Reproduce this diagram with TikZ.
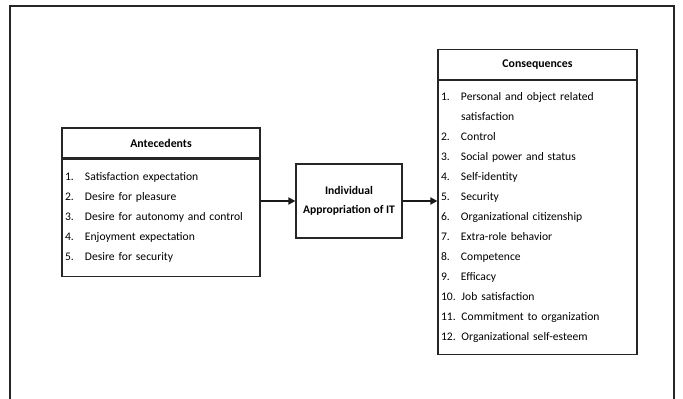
\documentclass[tikz,border=0pt]{standalone}
\usepackage{fontspec}
\setmainfont{Carlito}
\usetikzlibrary{arrows.meta}
\usetikzlibrary{positioning}

\newcommand{\itm}[2]{\makebox[20pt][l]{#1}#2}

\begin{document}
\begin{tikzpicture}[x=1pt, y=1pt,
    box/.style={draw=black!85, line width=1.2pt, inner xsep=3pt},
    head/.style={box, font=\bfseries\fontsize{11.8}{13}\selectfont, minimum height=30pt},
    list/.style={box, align=left, inner ysep=11.5pt, font=\fontsize{11.6}{20}\selectfont},
    flow/.style={line width=2pt, black!90, -{Triangle[length=7pt,width=7pt]}}]
    \useasboundingbox (0,0) rectangle (683,399);
    % outer frame, open at the bottom
    \draw[line width=1.2pt, black!85] (10,0) |- (674,393) -- (674,0);

    \node[head, minimum width=198pt] (ante-head) at (161,256) {Antecedents};
    \node[list, text width=192pt, minimum height=117pt, below=0pt of ante-head] (ante-list) {
        \itm{1.}{Satisfaction expectation}\\
        \itm{2.}{Desire for pleasure}\\
        \itm{3.}{Desire for autonomy and control}\\
        \itm{4.}{Enjoyment expectation}\\
        \itm{5.}{Desire for security}};

    \node[box, font=\bfseries\fontsize{11.6}{19}\selectfont, align=center,
        minimum width=106pt, minimum height=74pt] (indiv) at (349,198)
        {Individual\\Appropriation of IT};

    \node[head, minimum width=199pt] (cons-head) at (537.5,334.5) {Consequences};
    \node[list, text width=193pt, minimum height=274pt, below=0pt of cons-head] (cons-list) {
        \itm{1.}{Personal and object related}\\
        \hspace*{20pt}satisfaction\\
        \itm{2.}{Control}\\
        \itm{3.}{Social power and status}\\
        \itm{4.}{Self-identity}\\
        \itm{5.}{Security}\\
        \itm{6.}{Organizational citizenship}\\
        \itm{7.}{Extra-role behavior}\\
        \itm{8.}{Competence}\\
        \itm{9.}{Efficacy}\\
        10. Job satisfaction\\
        11. Commitment to organization\\
        12. Organizational self-esteem};

    \draw[flow] (ante-list.east |- indiv.west) -- (indiv.west);
    \draw[flow] (indiv.east) -- (cons-list.west |- indiv.east);
\end{tikzpicture}
\end{document}
